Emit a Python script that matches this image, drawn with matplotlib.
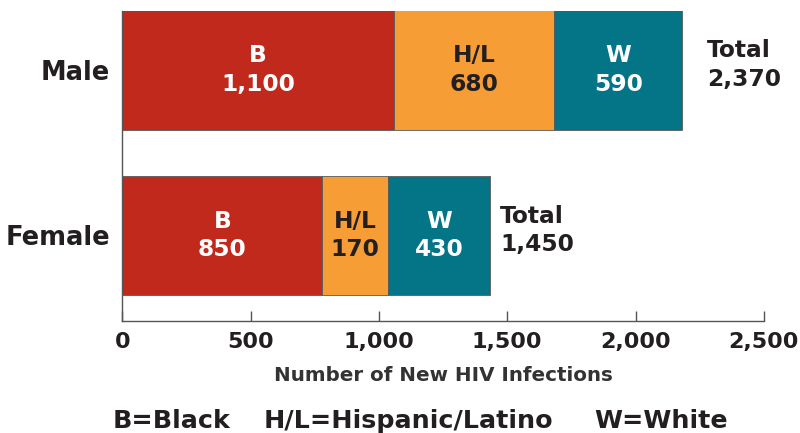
#!/usr/bin/env python3
"""New HIV infections by sex and race/ethnicity, stacked horizontal bars."""

import matplotlib

matplotlib.use("Agg")
import matplotlib.pyplot as plt

# rows, top to bottom
GROUPS = ["Male", "Female"]
SEGMENTS = ["B", "H/L", "W"]

# bar segment lengths as drawn on the axis
MALE_LEN = [1058, 624, 501]
FEMALE_LEN = [779, 255, 399]

# numbers printed in the segments
MALE_LABELS = ["1,100", "680", "590"]
FEMALE_LABELS = ["850", "170", "430"]
TOTAL_LABELS = ["2,370", "1,450"]

XTICKS = [0, 500, 1000, 1500, 2000, 2500]
XTICK_LABELS = ["0", "500", "1,000", "1,500", "2,000", "2,500"]
XLABEL = "Number of New HIV Infections"
KEY = ["B=Black", "H/L=Hispanic/Latino", "W=White"]

COLORS = ["#C0291B", "#F69D35", "#047487"]
TEXT_COLORS = ["white", "#231F20", "white"]
DARK = "#231F20"

plt.rcParams["font.family"] = ["DejaVu Sans"]
plt.rcParams["font.weight"] = "bold"

fig = plt.figure(figsize=(8, 4.33), dpi=100)
ax = fig.add_axes([0.1529, 0.2598, 0.8019, 0.7148])

ypos = [1, 0]
lengths = [MALE_LEN, FEMALE_LEN]
labels = [MALE_LABELS, FEMALE_LABELS]
total_pad = [95, 40]
bar_h = 0.72

for y, lens, labs, tot, pad in zip(ypos, lengths, labels, TOTAL_LABELS, total_pad):
    left = 0
    for seg, w, lab, col, tcol in zip(SEGMENTS, lens, labs, COLORS, TEXT_COLORS):
        ax.barh(y, w, left=left, height=bar_h, color=col, edgecolor="#5a5a5a", linewidth=0.6)
        ax.text(left + w / 2, y, f"{seg}\n{lab}", ha="center", va="center",
                color=tcol, fontsize=16.8, fontweight="bold", linespacing=1.3)
        left += w
    ax.text(left + pad, y + 0.03, f"Total\n{tot}", ha="left", va="center",
            color=DARK, fontsize=16.8, fontweight="bold", linespacing=1.3)

ax.set_xlim(0, 2500)
ax.set_ylim(-0.514, 1.356)
ax.set_yticks(ypos)
ax.set_yticklabels(GROUPS, fontsize=18.5, fontweight="bold", color=DARK)
ax.tick_params(axis="y", length=0, pad=9)
ax.set_xticks(XTICKS)
ax.set_xticklabels(XTICK_LABELS, fontsize=16, fontweight="bold", color=DARK)
ax.tick_params(axis="x", direction="in", length=7, width=1, color="#555555", pad=8)
ax.set_xlabel(XLABEL, fontsize=14.3, fontweight="bold", color="#333333", labelpad=10)

for side in ("top", "right"):
    ax.spines[side].set_visible(False)
for side in ("left", "bottom"):
    ax.spines[side].set_color("#555555")
    ax.spines[side].set_linewidth(1)

key_x = [113, 264, 594]
for k, kx in zip(KEY, key_x):
    fig.text(kx / 800, 5 / 433, k, ha="left", va="baseline", fontsize=18.3,
             fontweight="bold", color=DARK)

fig.savefig("out.png", dpi=100)
